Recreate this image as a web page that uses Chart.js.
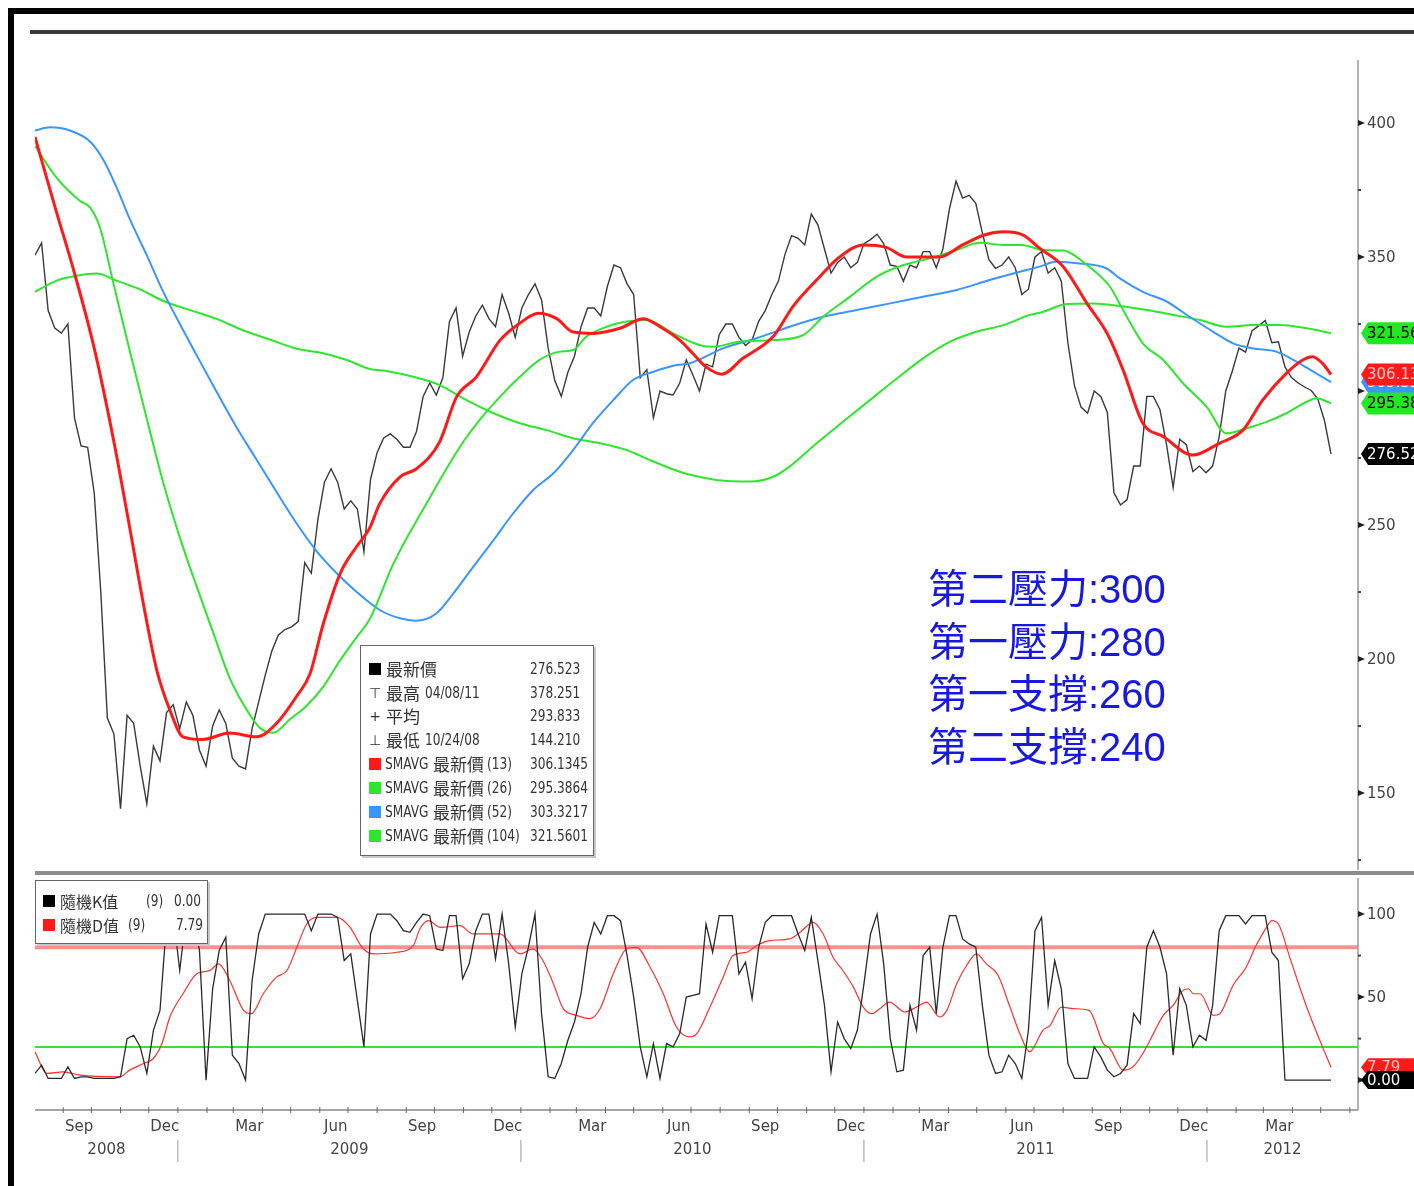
<!DOCTYPE html>
<html>
<head>
<meta charset="utf-8">
<script src="https://cdn.jsdelivr.net/npm/chart.js@4.4.1/dist/chart.umd.min.js"></script>
<style>
  html, body { margin:0; padding:0; background:#fff; }
  body { width:1414px; height:1186px; position:relative; overflow:hidden;
         font-family:'DejaVu Sans','Noto Sans CJK TC',sans-serif; }
  #frame { position:absolute; left:8px; top:8px; right:-10px; bottom:-10px;
           border-left:6px solid #000; border-top:6px solid #000; }
  #topRule { position:absolute; left:30px; top:30px; width:1384px; height:4px; background:#3a3a3a; }
  #split { position:absolute; left:35px; top:871px; width:1379px; height:4px; background:#8c8c8c; }
  canvas { position:absolute; left:0; }
  #cMain { top:0; }
  #cStoch { top:876px; }
  .legend { position:absolute; background:#fff; border:1px solid #666; box-shadow:2px 2px 0 #c8c8c8; color:#333; }
  .legend span, .legend i { position:absolute; height:22px; line-height:22px; white-space:nowrap; font-style:normal; }
  .legend i { width:12px; height:12px; margin-top:5px; }
  .t { font-family:'Noto Sans CJK TC',sans-serif; font-size:16px; }
  .n { font-family:'DejaVu Sans',sans-serif; font-size:16px; transform:scaleX(0.76); transform-origin:0 50%; }
  .s { font-family:'DejaVu Sans',sans-serif; font-size:14px; width:12px; text-align:center; }
  .note { position:absolute; left:928px; font-size:40px; line-height:44px; color:#1818e0;
          font-family:'Liberation Sans','Noto Sans CJK TC',sans-serif; white-space:nowrap; }
  .note span { font-family:'Noto Sans CJK TC',sans-serif; }
</style>
</head>
<body>
<div id="frame"></div>
<div id="topRule"></div>
<canvas id="cMain" width="1414" height="876"></canvas>
<canvas id="cStoch" width="1414" height="310"></canvas>
<div id="split"></div>

<div class="legend" style="left:360px;top:645px;width:232px;height:209px;">
  <i style="left:8px;top:12px;background:#000"></i>
  <span class="t" style="left:25px;top:12px;font-size:17px">最新價</span>
  <span class="n" style="left:169px;top:12px">276.523</span>

  <span class="s" style="left:8px;top:36px">⊤</span>
  <span class="t" style="left:25px;top:36px;font-size:17px">最高</span>
  <span class="n" style="left:64px;top:36px">04/08/11</span>
  <span class="n" style="left:169px;top:36px">378.251</span>

  <span class="s" style="left:8px;top:59px">+</span>
  <span class="t" style="left:25px;top:59px;font-size:17px">平均</span>
  <span class="n" style="left:169px;top:59px">293.833</span>

  <span class="s" style="left:8px;top:83px">⊥</span>
  <span class="t" style="left:25px;top:83px;font-size:17px">最低</span>
  <span class="n" style="left:64px;top:83px">10/24/08</span>
  <span class="n" style="left:169px;top:83px">144.210</span>

  <i style="left:8px;top:107px;background:#ff1a1a"></i>
  <span class="n" style="left:24px;top:107px">SMAVG</span>
  <span class="t" style="left:72px;top:107px;font-size:17px">最新價</span>
  <span class="n" style="left:126px;top:107px">(13)</span>
  <span class="n" style="left:169px;top:107px">306.1345</span>

  <i style="left:8px;top:131px;background:#2ee62e"></i>
  <span class="n" style="left:24px;top:131px">SMAVG</span>
  <span class="t" style="left:72px;top:131px;font-size:17px">最新價</span>
  <span class="n" style="left:126px;top:131px">(26)</span>
  <span class="n" style="left:169px;top:131px">295.3864</span>

  <i style="left:8px;top:155px;background:#3a96ff"></i>
  <span class="n" style="left:24px;top:155px">SMAVG</span>
  <span class="t" style="left:72px;top:155px;font-size:17px">最新價</span>
  <span class="n" style="left:126px;top:155px">(52)</span>
  <span class="n" style="left:169px;top:155px">303.3217</span>

  <i style="left:8px;top:179px;background:#2ee62e"></i>
  <span class="n" style="left:24px;top:179px">SMAVG</span>
  <span class="t" style="left:72px;top:179px;font-size:17px">最新價</span>
  <span class="n" style="left:126px;top:179px">(104)</span>
  <span class="n" style="left:169px;top:179px">321.5601</span>
</div>

<div class="legend" style="left:35px;top:880px;width:171px;height:62px;">
  <i style="left:7px;top:9px;background:#000"></i>
  <span class="t" style="left:24px;top:9px">隨機K值</span>
  <span class="n" style="left:110px;top:9px">(9)</span>
  <span class="n" style="left:138px;top:9px">0.00</span>

  <i style="left:7px;top:33px;background:#ff1a1a"></i>
  <span class="t" style="left:24px;top:33px">隨機D值</span>
  <span class="n" style="left:92px;top:33px">(9)</span>
  <span class="n" style="left:140px;top:33px">7.79</span>
</div>

<div class="note" style="top:564px"><span>第二壓力</span>:300</div>
<div class="note" style="top:617px"><span>第一壓力</span>:280</div>
<div class="note" style="top:669px"><span>第一支撐</span>:260</div>
<div class="note" style="top:722px"><span>第二支撐</span>:240</div>

<script>
// weekly closes, week 0 = early Aug 2008
const closes = [
  350.7, 355.3, 330, 323.5, 321.6, 325, 290, 279.5, 279, 262,
  225, 178, 172, 144.2, 179, 176, 160, 146, 167.5, 162,
  180, 183, 174, 184, 179, 166, 160, 175, 181, 176,
  163, 160, 159, 174, 184, 194, 203, 209, 211, 212,
  214, 236, 232, 252, 266, 271, 266, 256, 259, 256,
  240, 267, 277, 282.5, 284, 282, 279, 279, 285, 298,
  303, 298.5, 305, 326, 331, 313, 322, 328, 332, 327,
  324, 336, 329, 320, 331, 336, 340, 334, 316, 304,
  298, 307, 313, 324, 331, 331, 328, 339, 347, 346,
  340, 336, 305, 308, 290, 300, 299, 298.5, 303, 311.6,
  306, 300, 310, 309, 321, 325, 325, 320, 317, 319,
  326, 330, 336, 341, 351, 358, 357, 354.5, 366, 362,
  353, 344, 348, 350, 346, 348, 355, 356.5, 358.5, 355,
  347, 346.5, 341, 347, 346, 352, 352, 346, 353, 368,
  378.3, 372, 373, 370, 359, 349, 345.8, 347, 350, 346,
  336, 338, 350, 352, 344, 346, 341, 318, 302, 294,
  291.7, 300, 298, 292, 262, 257.5, 259.5, 272, 272, 298,
  298, 293, 280, 264, 282, 280, 270, 272, 269.5, 272,
  283, 300, 307.5, 316, 314.5, 322.5, 324.3, 326.3, 318, 318.4,
  309, 305, 303, 301.5, 300.2, 297, 289, 276.5
];

// moving averages: [week, value]
const sma13 = [
  [0,394.8],[3,369],[6,344],[9,316],[12,281],[14.4,249],[16.4,221.6],[18.5,196],
  [20.5,181],[22.5,171],[25.5,170],[29.6,172.4],[33.7,171],[36.7,176],[39.8,186.2],[41.8,194.5],
  [43.8,213],[46.4,232],[48.9,242],[50.9,249],[52.4,258],[55.5,268],[58,271],[61.5,281],
  [64.1,297.9],[67.1,305.3],[70.7,319],[73.7,325.3],[76.5,329],[79.3,327],[81.8,322],[84.9,321.5],
  [88.9,323.4],[92.5,327],[95,324],[98,319],[100,314],[102,309],[104.4,306.3],[107.6,312.2],
  [112.2,320.3],[115.2,331.5],[118.8,341.4],[122.3,350],[125.9,354.5],[129.4,353.6],[132.5,350],
  [137.5,350],[141,354.5],[144.3,358.2],[147.3,359.4],[150.2,358.2],[152.7,353.3],[156.3,346.4],
  [159.9,332.7],[163.1,320.9],[165.4,307.8],[168.4,288],[171.5,283],[176,276.1],[180,280.5],
  [183.6,285.4],[186.6,296.6],[190.2,306.6],[192.7,311.6],[194.2,312.8],[195.7,310.3],[197,306.1]
];
const sma26 = [
  [0,391.4],[3.3,379.5],[6.8,371],[8.4,368.4],[9.9,360.8],[11.9,340.4],[14.4,315],[17,289.6],
  [19.5,265.8],[22,245.5],[24.6,226.9],[27.1,209.8],[29.6,192.9],[32.2,181],[34.2,174.3],[36.2,172.5],
  [38.8,177.6],[41.3,182.6],[43.8,189.6],[46.4,199.6],[48.9,208.2],[50.9,215],[54.5,235.7],[59.5,258],
  [64.6,279.2],[67.6,289.2],[70.7,297.9],[73.7,305.3],[76.7,311.6],[79.8,314.7],[81.8,315.3],[83.8,320.3],
  [86.9,324],[89.9,325.9],[93,326.5],[97,321.5],[101,317.2],[103,316.5],[107.1,318.4],[112.2,319],
  [116.8,320.9],[119.8,327.7],[123.9,335.2],[127.9,342.6],[132,347],[136,349.5],[140.1,352.6],
  [143.6,355.3],[147.2,354.5],[150,354.5],[153.3,352.6],[156.3,352.4],[159.9,347],[163.4,338.9],
  [165.4,330.2],[168.4,317.8],[171.5,311.6],[174.5,302.9],[178.1,294.1],[181.1,284.2],[184.2,286.1],
  [187.2,288.5],[190.2,291.7],[193.3,296],[194.8,297.3],[197,295.4]
];
const sma52 = [
  [0,397.2],[2.3,398.4],[5.3,397.2],[8.4,393],[10.4,386.2],[12.4,376],[14.4,364.2],[17,350.6],
  [19.5,337],[22,325.1],[24.6,313.2],[27.6,299.7],[30.7,286.2],[33.7,274.3],[36.7,262.4],[39.8,250.5],
  [42.8,240.3],[45.9,231.9],[48.9,225],[52.4,218.3],[55.5,215.2],[57.8,214.3],[61,217],[63.6,224.5],
  [66.6,234.4],[69.7,244.4],[72.7,254.4],[75.7,263],[78.8,269.3],[81.8,278],[84.8,288],[87.9,296.6],
  [90.9,304.1],[94,307.2],[97.5,309.7],[99.5,310.3],[104.6,315.9],[109.7,319.7],[114.7,324],
  [119.8,327.7],[124.9,330.2],[130,332.7],[135,335.2],[140.1,337.7],[145.1,341.4],[149.7,344.5],
  [152.7,346.4],[155.2,348.2],[158.8,347.6],[162.8,345.8],[164.9,342],[168.4,337],[172,333.4],
  [175.5,327.7],[179.1,322.1],[182.1,317.8],[185.2,315.9],[188.7,314.7],[191.8,310.9],[194.3,307.2],
  [197,303.3]
];
const sma104 = [
  [0,337],[3.3,341.2],[6.3,343],[9.4,343.8],[12.4,341.2],[16,337.9],[19.5,333.6],[23.6,330.2],
  [27.6,326.9],[31.7,322.6],[35.7,319.2],[39.8,315.8],[43.8,314.1],[47.4,311.6],[50.9,308.2],
  [53.4,307.5],[57.5,305.3],[61.5,302.2],[65.6,296.6],[69.7,291.7],[73.7,288],[77.8,285.4],
  [81.8,282.4],[85.9,280.5],[89.9,278],[94,273.7],[98,269.9],[101,268],[103.6,266.8],[108.7,266.2],
  [112.2,268],[114.7,271.8],[118.8,280.5],[122.8,288.5],[126.9,296.6],[131,304.7],[135,312.2],
  [139.1,318.4],[143.1,322.1],[147.2,324.6],[151.2,328.4],[153.3,329.6],[156.8,332.5],[160.9,332.7],
  [164.9,331.7],[169,330.2],[173,328.4],[177.1,326.5],[181.1,324],[185.2,324.6],[189.2,324.6],
  [193.3,323.4],[197,321.6]
];

// stochastic (9): K weekly, D read as [week, value]
const stochK = [
  4, 9, 1, 1, 1, 8, 1, 2, 2, 1,
  1, 1, 1, 2, 25, 27, 20, 4, 30, 42,
  95, 100, 66, 100, 100, 78, 0, 55, 78, 86,
  15, 10, 0, 60, 88, 100, 100, 100, 100, 100,
  100, 100, 90, 100, 100, 100, 98, 72, 76, 48,
  20, 88, 100, 100, 100, 96, 90, 89, 95, 100,
  99, 79, 78, 99, 99, 61, 70, 90, 100, 100,
  73, 100, 70, 32, 64, 80, 100, 40, 2, 1,
  10, 24, 35, 52, 80, 95, 88, 99, 99, 96,
  75, 50, 20, 2, 22, 1, 22, 20, 28, 50,
  51, 52, 94, 77, 99, 99, 99, 64, 71, 49,
  80, 95, 99, 99, 99, 99, 88, 78, 98, 72,
  45, 5, 35, 25, 19, 30, 58, 88, 100, 70,
  25, 5, 6, 45, 30, 75, 80, 40, 80, 99,
  99, 85, 82, 80, 45, 15, 4, 5, 15, 10,
  1, 30, 90, 98, 45, 72, 55, 10, 1, 1,
  1, 20, 14, 6, 2, 4, 9, 40, 34, 80,
  90, 80, 64, 15, 55, 45, 20, 27, 24, 45,
  90, 99, 99, 99, 94, 99, 99, 99, 77, 72,
  0, 0, 0, 0, 0, 0, 0, 0
];
const stochD = [
  [0,17],[1.8,4],[4.3,5],[6.8,3],[12.9,2],[14.4,6],[16.5,10],[18,13],[19.3,22],[20.5,38],
  [22.5,52],[24.6,64],[26.6,66],[27.9,70],[29.6,60],[31.7,42],[32.9,40],[34.7,52],[36.7,62],
  [38.3,66],[39.8,80],[41.3,94],[42.8,98],[45.9,98],[47.9,92],[49.7,80],[51.4,76],[55,77],
  [57.5,81],[58.5,91],[59.8,96],[61.6,92],[64.6,93],[66.6,88],[69.2,88],[70.7,88],[73.7,76],
  [75.7,79],[77.2,72],[78.8,58],[80.3,43],[82.3,39],[84.3,37],[85.9,43],[87.9,64],[89.9,79],
  [91.4,80],[93.5,68],[95.5,52],[97.5,32],[99.5,26],[100.6,28],[102.6,44],[104.6,62],[106.1,75],
  [108.2,77],[109.7,81],[111.7,84],[114.7,85],[116.3,89],[118.3,95],[119.8,88],[121.3,74],
  [122.8,66],[124.4,56],[125.9,44],[127.2,40],[128.4,43],[129.9,47],[132.2,41],[134,44],
  [135.5,47],[137.5,38],[138.6,42],[140.1,58],[141.6,69],[143.1,76],[144.6,70],[146.4,63],
  [148.2,44],[149.7,28],[151.2,17],[153.2,30],[154.3,33],[156,44],[157.8,43],[160.2,42],
  [162.4,22],[163.4,19],[165.4,6],[166.9,8],[168.4,16],[170,28],[171.5,39],[173,45],[174.5,54],
  [175.3,55],[176.1,52],[177.1,52],[179.1,39],[180.1,40],[182.1,57],[184.1,68],[185.6,81],
  [187.2,92],[188,96],[189,94],[190.8,73],[193.3,44],[195.7,20],[197,7.8]
];

const priceTicks = [125, 150, 175, 200, 225, 250, 275, 300, 325, 350, 375, 400];
const stochTicks = [0, 25, 50, 75, 100];
const stochLevels = [80, 20];
const monthNames = ['Jan','Feb','Mar','Apr','May','Jun','Jul','Aug','Sep','Oct','Nov','Dec'];
const labelMonths = [2, 5, 8, 11];
const years = [2008, 2009, 2010, 2011, 2012];

const AXFONT = "15px 'DejaVu Sans',sans-serif";
const T0 = Date.UTC(2008, 7, 2);
const weekOf = (y, m, d) => (Date.UTC(y, m, d) - T0) / (7 * 86400000);
const pts = arr => arr.map(p => ({x: p[0], y: p[1]}));
const XMAX = 201.1;

const drawTag = (ctx, xAxis, y, text, bg, fg, h) => {
  const x0 = xAxis + 3, x1 = xAxis + 10, x2 = 1414;
  ctx.beginPath();
  ctx.moveTo(x0, y);
  ctx.lineTo(x1, y - h / 2);
  ctx.lineTo(x2, y - h / 2);
  ctx.lineTo(x2, y + h / 2);
  ctx.lineTo(x1, y + h / 2);
  ctx.closePath();
  ctx.fillStyle = bg;
  ctx.fill();
  ctx.fillStyle = fg;
  ctx.font = AXFONT;
  ctx.textAlign = 'left';
  ctx.textBaseline = 'middle';
  ctx.fillText(text, x0 + 6, y + 1);
};

const drawRightAxis = (chart, ticks, majorEvery) => {
  const ctx = chart.ctx, a = chart.chartArea, ys = chart.scales.y;
  ctx.save();
  ctx.strokeStyle = '#9a9a9a';
  ctx.lineWidth = 1.5;
  ctx.beginPath();
  ctx.moveTo(a.right, a.top);
  ctx.lineTo(a.right, a.bottom);
  ctx.stroke();
  ticks.forEach(v => {
    const y = ys.getPixelForValue(v);
    if (v % majorEvery === 0) {
      ctx.fillStyle = '#222';
      ctx.beginPath();
      ctx.moveTo(a.right, y - 3);
      ctx.lineTo(a.right + 7, y);
      ctx.lineTo(a.right, y + 3);
      ctx.closePath();
      ctx.fill();
      ctx.fillStyle = '#444';
      ctx.font = AXFONT;
      ctx.textAlign = 'left';
      ctx.textBaseline = 'middle';
      ctx.fillText(String(v), a.right + 9, y + 1);
    } else {
      ctx.fillStyle = '#444';
      ctx.fillRect(a.right, y - 1, 3, 2);
    }
  });
  ctx.restore();
};

const mainPlugin = {
  id: 'mainAxis',
  afterDraw(chart) {
    const ctx = chart.ctx, a = chart.chartArea, ys = chart.scales.y;
    drawRightAxis(chart, priceTicks, 50);
    ctx.save();
    drawTag(ctx, a.right, ys.getPixelForValue(303.3217), '303.322', '#3a96ff', '#fff', 22);
    drawTag(ctx, a.right, ys.getPixelForValue(321.5601), '321.560', '#22e822', '#000', 22);
    drawTag(ctx, a.right, ys.getPixelForValue(306.1345), '306.134', '#ff1a1a', '#ffc8c8', 22);
    drawTag(ctx, a.right, ys.getPixelForValue(295.3864), '295.386', '#22e822', '#000', 22);
    drawTag(ctx, a.right, ys.getPixelForValue(276.523), '276.523', '#000', '#fff', 22);
    ctx.restore();
  }
};

const stochPlugin = {
  id: 'stochAxis',
  beforeDatasetsDraw(chart) {
    const ctx = chart.ctx, a = chart.chartArea, ys = chart.scales.y;
    ctx.save();
    stochLevels.forEach(v => {
      const y = ys.getPixelForValue(v);
      ctx.strokeStyle = v > 50 ? 'rgba(255,70,70,0.6)' : '#3adf3a';
      ctx.lineWidth = v > 50 ? 4 : 2;
      ctx.beginPath();
      ctx.moveTo(a.left, y);
      ctx.lineTo(a.right, y);
      ctx.stroke();
    });
    ctx.restore();
  },
  afterDraw(chart) {
    const ctx = chart.ctx, a = chart.chartArea, ys = chart.scales.y, xs = chart.scales.x;
    drawRightAxis(chart, stochTicks, 50);
    ctx.save();
    drawTag(ctx, a.right, ys.getPixelForValue(7.79), '7.79', '#ff1a1a', '#ffc8c8', 18);
    drawTag(ctx, a.right, ys.getPixelForValue(0), '0.00', '#000', '#fff', 18);

    // bottom time axis
    ctx.strokeStyle = '#888';
    ctx.lineWidth = 1.5;
    ctx.beginPath();
    ctx.moveTo(a.left, a.bottom);
    ctx.lineTo(a.right, a.bottom);
    ctx.stroke();
    ctx.font = AXFONT;
    ctx.fillStyle = '#444';
    ctx.textAlign = 'center';
    ctx.textBaseline = 'middle';
    ctx.lineWidth = 1;
    ctx.strokeStyle = '#666';
    years.forEach(yr => {
      for (let m = 0; m < 12; m++) {
        const w = weekOf(yr, m, 1);
        if (w >= 0 && w <= XMAX) {
          const x = xs.getPixelForValue(w);
          ctx.beginPath();
          ctx.moveTo(x, a.bottom - 3);
          ctx.lineTo(x, a.bottom + 3);
          ctx.stroke();
        }
        const wl = weekOf(yr, m, 18);
        if (labelMonths.includes(m) && wl >= 0 && wl <= XMAX - 1) {
          ctx.fillText(monthNames[m], xs.getPixelForValue(wl), a.bottom + 17);
        }
      }
      const ws = Math.max(0, weekOf(yr, 0, 1));
      const we = Math.min(XMAX, weekOf(yr + 1, 0, 1));
      if (ws > 0) {
        const x = xs.getPixelForValue(ws);
        ctx.strokeStyle = '#999';
        ctx.beginPath();
        ctx.moveTo(x, a.bottom + 30);
        ctx.lineTo(x, a.bottom + 52);
        ctx.stroke();
        ctx.strokeStyle = '#666';
      }
      ctx.fillText(String(yr), (xs.getPixelForValue(ws) + xs.getPixelForValue(we)) / 2, a.bottom + 40);
    });
    ctx.restore();
  }
};

const lineSet = (data, color, width, order, smooth) => ({
  data: data,
  borderColor: color,
  borderWidth: width,
  pointRadius: 0,
  fill: false,
  order: order,
  cubicInterpolationMode: smooth ? 'monotone' : 'default',
  tension: 0
});

const baseOptions = (ymin, ymax, padding) => ({
  responsive: false,
  animation: false,
  events: [],
  layout: { padding: padding },
  plugins: { legend: { display: false }, tooltip: { enabled: false } },
  scales: {
    x: { type: 'linear', min: 0, max: XMAX, display: false },
    y: { type: 'linear', min: ymin, max: ymax, display: false }
  }
});

new Chart(document.getElementById('cMain'), {
  type: 'line',
  data: {
    datasets: [
      lineSet(closes.map((v, i) => ({x: i, y: v})), '#3a3a3a', 1.4, 5, false),
      lineSet(pts(sma104), '#2ee62e', 2, 4, true),
      lineSet(pts(sma52), '#3a96ff', 2, 3, true),
      lineSet(pts(sma26), '#2ee62e', 2, 2, true),
      lineSet(pts(sma13), '#ff1a1a', 3, 1, true)
    ]
  },
  options: baseOptions(121.3, 423.5, {left: 35, right: 56, top: 60, bottom: 6}),
  plugins: [mainPlugin]
});

new Chart(document.getElementById('cStoch'), {
  type: 'line',
  data: {
    datasets: [
      lineSet(stochK.map((v, i) => ({x: i, y: v})), '#2a2a2a', 1.3, 1, false),
      lineSet(pts(stochD), '#ff3030', 1.2, 2, true)
    ]
  },
  options: baseOptions(-18, 121.7, {left: 35, right: 56, top: 2, bottom: 76}),
  plugins: [stochPlugin]
});
</script>
</body>
</html>
